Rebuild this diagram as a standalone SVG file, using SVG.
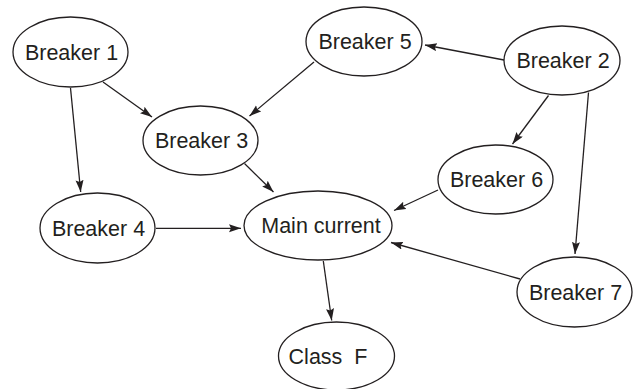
<svg xmlns="http://www.w3.org/2000/svg" width="634" height="389" viewBox="0 0 634 389">
  <style>
    .node ellipse { fill: #ffffff; stroke: #231f20; stroke-width: 1.3; }
    .node text { font-family: "Liberation Sans", Arial, sans-serif; font-size: 21.5px; fill: #231f20; text-anchor: middle; white-space: pre; }
    .edges line { stroke: #231f20; stroke-width: 1.3; marker-end: url(#arrow); }
  </style>
  <defs>
    <marker id="arrow" markerUnits="userSpaceOnUse" markerWidth="13" markerHeight="9" refX="12" refY="4" orient="auto">
      <path d="M0,0 L12,4 L0,8 L2,4 z" fill="#231f20"/>
    </marker>
  </defs>
  <rect width="634" height="389" fill="#ffffff"/>

  <g class="edges">
    <line x1="103" y1="82" x2="152" y2="117"/>
    <line x1="70.5" y1="88" x2="80.7" y2="192"/>
    <line x1="314" y1="62" x2="249.5" y2="116"/>
    <line x1="244.5" y1="163.5" x2="273.5" y2="192"/>
    <line x1="504" y1="60" x2="425" y2="45"/>
    <line x1="548.5" y1="95.5" x2="512.5" y2="144"/>
    <line x1="588.5" y1="92.5" x2="575" y2="254"/>
    <line x1="438" y1="190" x2="394" y2="210.5"/>
    <line x1="520" y1="279" x2="391" y2="242.5"/>
    <line x1="156" y1="228.3" x2="241" y2="228.3"/>
    <line x1="323.3" y1="261" x2="331.7" y2="320.5"/>
  </g>

  <g id="breaker1" class="node">
    <ellipse cx="70.5" cy="52" rx="57.5" ry="35"/>
    <text x="71.5" y="59.5">Breaker 1</text>
  </g>
  <g id="breaker5" class="node">
    <ellipse cx="364" cy="41.5" rx="58" ry="34.5"/>
    <text x="365" y="49">Breaker 5</text>
  </g>
  <g id="breaker2" class="node">
    <ellipse cx="562" cy="60.5" rx="58" ry="34.5"/>
    <text x="563" y="68">Breaker 2</text>
  </g>
  <g id="breaker3" class="node">
    <ellipse cx="200.5" cy="140.5" rx="57.5" ry="34.5"/>
    <text x="201.5" y="148">Breaker 3</text>
  </g>
  <g id="breaker6" class="node">
    <ellipse cx="495.5" cy="179.5" rx="57.5" ry="34.5"/>
    <text x="496.5" y="187">Breaker 6</text>
  </g>
  <g id="breaker4" class="node">
    <ellipse cx="97.5" cy="228" rx="57.5" ry="35"/>
    <text x="98.5" y="235.5">Breaker 4</text>
  </g>
  <g id="main-current" class="node">
    <ellipse cx="318" cy="225.5" rx="74" ry="34.5"/>
    <text x="321" y="233">Main current</text>
  </g>
  <g id="breaker7" class="node">
    <ellipse cx="574.5" cy="292" rx="57.5" ry="35"/>
    <text x="575.5" y="299.5">Breaker 7</text>
  </g>
  <g id="class-f" class="node">
    <ellipse cx="336.5" cy="356" rx="58" ry="34"/>
    <text x="328" y="363.5">Class  F</text>
  </g>
</svg>
